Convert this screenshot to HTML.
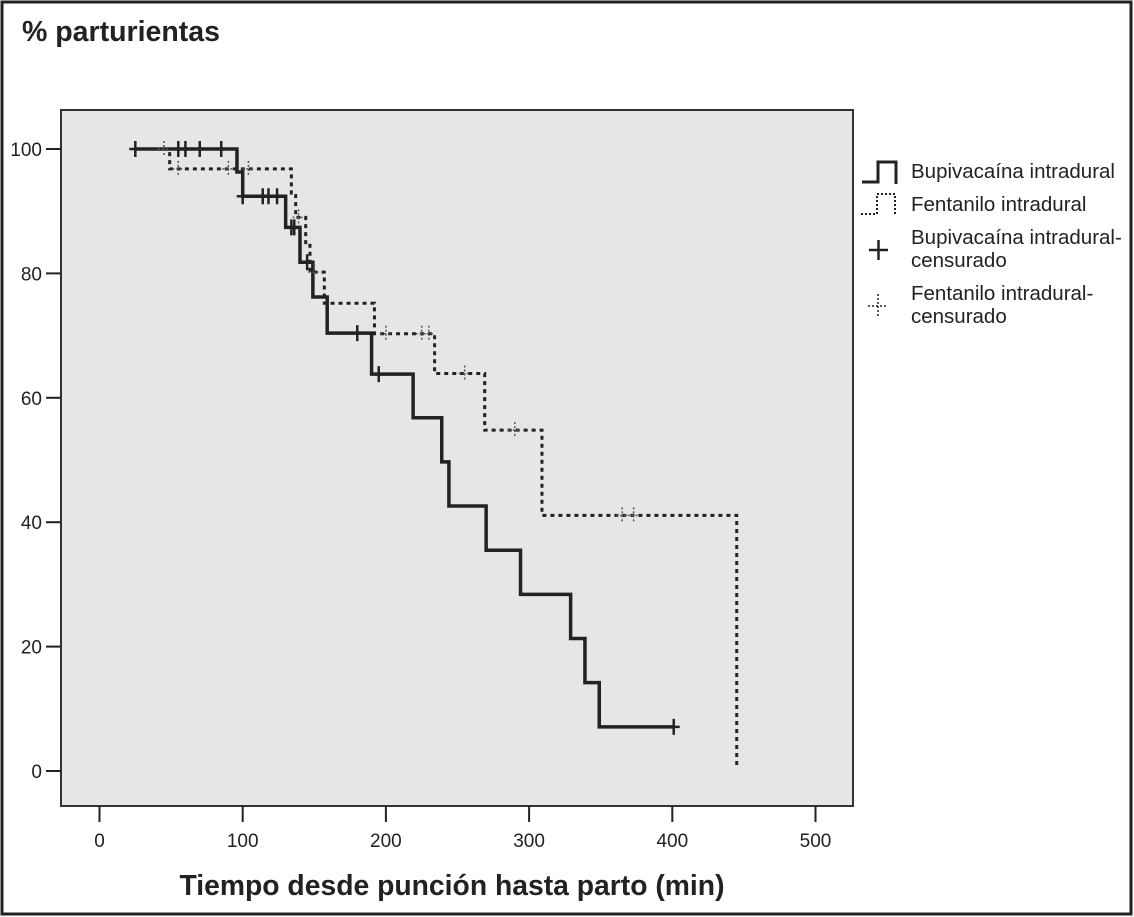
<!DOCTYPE html>
<html><head><meta charset="utf-8"><style>
body{margin:0;background:#fff}
svg{display:block;font-family:"Liberation Sans",Arial,sans-serif}
</style></head><body>
<svg id="c" width="1134" height="917">
<rect x="2" y="2" width="1129" height="912" fill="#fff" stroke="#222" stroke-width="3"/>
<text x="22" y="41" font-size="28.5" font-weight="bold" fill="#222">% parturientas</text>
<rect x="61" y="110" width="792" height="696" fill="#e6e6e6" stroke="#333" stroke-width="2"/>
<g id="axes"></g>
<g id="series"></g>
<text x="452" y="895" font-size="28.3" font-weight="bold" text-anchor="middle" fill="#222">Tiempo desde punción hasta parto (min)</text>
<g font-size="20.5" fill="#222">
<path d="M862,182 H878 V162 H896 V184" fill="none" stroke="#222" stroke-width="3"/>
<text x="911" y="178">Bupivacaína intradural</text>
<path d="M861,214 H877 V194 H895 V216" fill="none" stroke="#222" stroke-width="2" stroke-dasharray="2,2"/>
<text x="911" y="211">Fentanilo intradural</text>
<path d="M869,250 H888 M878.5,240 V260" stroke="#222" stroke-width="2.5"/>
<text x="911" y="244">Bupivacaína intradural-</text>
<text x="911" y="267">censurado</text>
<path d="M868,306 H888 M878,294 V318" stroke="#222" stroke-width="1.5" stroke-dasharray="2,2"/>
<text x="911" y="300">Fentanilo intradural-</text>
<text x="911" y="323">censurado</text>
</g>
</svg>
<script>
const xTicks=[0,100,200,300,400,500];
const yTicks=[0,20,40,60,80,100];
const bupStart=25, bupEnd=401;
const bupTimes=[96,100,130,140,149,159,190,219,239,244,270,294,329,339,349];
const bupValues=[100,96.3,92.4,87.4,81.8,76.2,70.4,63.8,56.8,49.7,42.6,35.5,28.4,21.3,14.2,7.1];
const bupCensT=[25,55,60,70,85,100,114,118,124,134,136,145,180,195,401];
const fenStart=40, fenEnd=445;
const fenTimes=[49,134,137,144,147,157,192,234,269,309,445];
const fenValues=[100,96.8,92.9,89,84.5,80.2,75.2,70.3,63.9,54.8,41.1,0.8];
const fenCensT=[45,55,90,104,139,150,200,225,230,255,290,365,373];
const X=t=>99.5+t*1.432;
const Y=v=>771-v*6.22;
const NS="http://www.w3.org/2000/svg";
const ax=document.getElementById('axes'), se=document.getElementById('series');
function mk(tag,attrs,parent){const e=document.createElementNS(NS,tag);for(const k in attrs)e.setAttribute(k,attrs[k]);parent.appendChild(e);return e;}
xTicks.forEach(t=>{
 const l=mk('line',{x1:X(t),x2:X(t),y1:806,y2:822,stroke:'#222','stroke-width':2},ax);
 
 
 const tx=mk('text',{x:X(t),y:847,'font-size':19,'text-anchor':'middle',fill:'#222'},ax);tx.textContent=t;
 
 
});
yTicks.forEach(v=>{
 const l=mk('line',{x1:46,x2:61,y1:Y(v),y2:Y(v),stroke:'#222','stroke-width':2},ax);
 
 
 const tx=mk('text',{x:42,y:Y(v)+7,'font-size':19,'text-anchor':'end',fill:'#222'},ax);tx.textContent=v;
 
 
});
function stepPath(start,times,vals,end){
 let d='M'+X(start)+','+Y(vals[0]);
 times.forEach((t,i)=>{d+=' H'+X(t)+' V'+Y(vals[i+1]);});
 if(end>times[times.length-1]) d+=' H'+X(end);
 return d;
}
function valAt(times,vals,t){let v=vals[0];times.forEach((tt,i)=>{if(t>=tt)v=vals[i+1];});return v;}
const fp=mk('path',{d:stepPath(fenStart,fenTimes,fenValues,fenEnd),fill:'none',stroke:'#222','stroke-width':3,'stroke-dasharray':'4,4'},se);


const bp=mk('path',{d:stepPath(bupStart,bupTimes,bupValues,bupEnd),fill:'none',stroke:'#222','stroke-width':3.5},se);


bupCensT.forEach(t=>{
 const x=X(t),y=Y(valAt(bupTimes,bupValues,t));
 const c=mk('path',{d:`M${x-6},${y} H${x+6} M${x},${y-8} V${y+8}`,stroke:'#222','stroke-width':2.5},se);
 
 
});
fenCensT.forEach(t=>{
 const x=X(t),y=Y(valAt(fenTimes,fenValues,t));
 const c=mk('path',{d:`M${x-6},${y} H${x+6} M${x},${y-8} V${y+8}`,stroke:'#555','stroke-width':1.5,'stroke-dasharray':'2,2'},se);
 
 
});
</script>
</body></html>
